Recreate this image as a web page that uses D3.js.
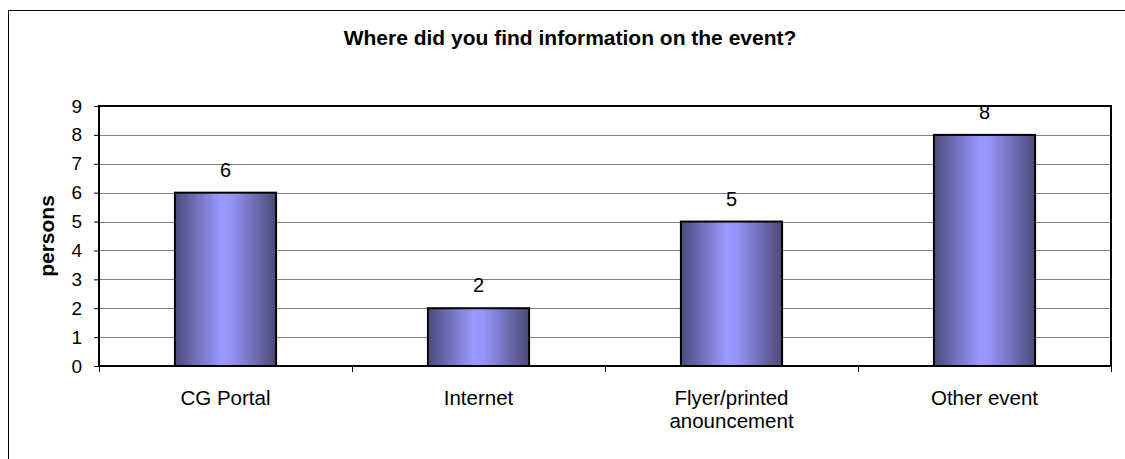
<!DOCTYPE html>
<html>
<head>
<meta charset="utf-8">
<script src="https://cdn.jsdelivr.net/npm/d3@7"></script>
<style>
  html, body { margin: 0; padding: 0; background: #fff; overflow: hidden; }
  svg { display: block; font-family: Arial, "Liberation Sans", sans-serif; }
</style>
</head>
<body>
<svg id="chart" width="1125" height="459"></svg>
<script>
// Survey answers: where respondents heard about the event
const categories = ["CG Portal", "Internet", "Flyer/printed\nanouncement", "Other event"];
const persons = [6, 2, 5, 8];
const yTicks = [0, 1, 2, 3, 4, 5, 6, 7, 8, 9];
const chartTitle = "Where did you find information on the event?";
const yTitle = "persons";

const svg = d3.select("#chart");

// outer chart frame: only its top and left edges fall inside the view
svg.append("path")
  .attr("d", "M8.5,459 V10.5 H1125")
  .attr("fill", "none").attr("stroke", "#000").attr("stroke-width", 1);

const plot = { left: 99, top: 106, right: 1111, bottom: 366 };

const x = d3.scaleBand()
  .domain(categories)
  .range([plot.left, plot.right])
  .paddingInner(0.6).paddingOuter(0.3);
const xEdges = d3.scaleLinear().domain([0, categories.length]).range([plot.left, plot.right]);
const y = d3.scaleLinear().domain([0, 9]).range([plot.bottom, plot.top]);

// bar gradient: dark edges, light centre
const defs = svg.append("defs");
const grad = defs.append("linearGradient").attr("id", "barGrad")
  .attr("x1", "0%").attr("x2", "100%").attr("y1", "0%").attr("y2", "0%");
[["0%", "#4a4a7c"], ["45%", "#9999ff"], ["55%", "#9595f8"], ["100%", "#4a4a78"]]
  .forEach(([o, c]) => grad.append("stop").attr("offset", o).attr("stop-color", c));

// gridlines
svg.append("g")
  .selectAll("line")
  .data(yTicks.filter(t => t > 0 && t < 9))
  .join("line")
  .attr("x1", plot.left).attr("x2", plot.right)
  .attr("y1", d => Math.round(y(d)) + 0.5).attr("y2", d => Math.round(y(d)) + 0.5)
  .attr("stroke", "#808080").attr("stroke-width", 1);

// plot area border
svg.append("rect")
  .attr("x", plot.left).attr("y", plot.top)
  .attr("width", plot.right - plot.left).attr("height", plot.bottom - plot.top)
  .attr("fill", "none").attr("stroke", "#000").attr("stroke-width", 2);

// y axis
const yAxis = d3.axisLeft(y).tickValues(yTicks).tickSize(5).tickPadding(12).tickFormat(d3.format("d"));
const gy = svg.append("g").attr("transform", `translate(${plot.left},0)`).call(yAxis);
gy.select(".domain").remove();
gy.selectAll(".tick line").attr("stroke", "#000");
gy.selectAll(".tick text")
  .attr("font-size", 19).attr("fill", "#000")
  .attr("font-family", "Arial, 'Liberation Sans', sans-serif");

// x axis ticks at category boundaries
svg.append("g")
  .selectAll("line")
  .data(d3.range(categories.length + 1))
  .join("line")
  .attr("x1", d => Math.round(xEdges(d)) + 0.5).attr("x2", d => Math.round(xEdges(d)) + 0.5)
  .attr("y1", plot.bottom).attr("y2", plot.bottom + 6)
  .attr("stroke", "#000");

// bars
svg.append("g")
  .selectAll("rect")
  .data(categories.map((c, i) => ({ c, v: persons[i] })))
  .join("rect")
  .attr("x", d => x(d.c))
  .attr("y", d => y(d.v))
  .attr("width", x.bandwidth())
  .attr("height", d => y(0) - y(d.v))
  .attr("fill", "url(#barGrad)")
  .attr("stroke", "#000").attr("stroke-width", 2);

// value labels
svg.append("g")
  .selectAll("text")
  .data(categories.map((c, i) => ({ c, v: persons[i] })))
  .join("text")
  .attr("x", d => x(d.c) + x.bandwidth() / 2)
  .attr("y", d => y(d.v) - 16)
  .attr("text-anchor", "middle")
  .attr("font-size", 20).attr("fill", "#000")
  .text(d => d.v);

// category labels (multi-line)
const cat = svg.append("g")
  .selectAll("text")
  .data(categories)
  .join("text")
  .attr("x", d => x(d) + x.bandwidth() / 2)
  .attr("y", 405)
  .attr("text-anchor", "middle")
  .attr("font-size", 20.5).attr("fill", "#000");
cat.each(function(d) {
  const lines = d.split("\n");
  d3.select(this).selectAll("tspan")
    .data(lines)
    .join("tspan")
    .attr("x", x(d) + x.bandwidth() / 2)
    .attr("dy", (l, i) => i === 0 ? 0 : 23)
    .text(l => l);
});

// title
svg.append("text")
  .attr("x", 570).attr("y", 45)
  .attr("text-anchor", "middle")
  .attr("font-size", 21).attr("font-weight", "bold")
  .text(chartTitle);

// y axis title
svg.append("text")
  .attr("transform", `translate(54,${(plot.top + plot.bottom) / 2}) rotate(-90)`)
  .attr("text-anchor", "middle")
  .attr("font-size", 21).attr("font-weight", "bold")
  .text(yTitle);
</script>
</body>
</html>
